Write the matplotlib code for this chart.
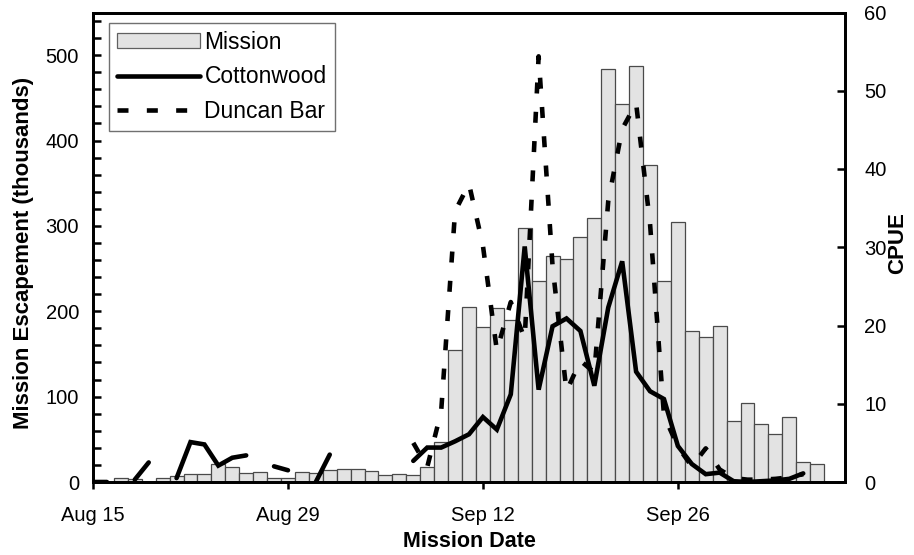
import numpy as np
import matplotlib
matplotlib.use("Agg")
import matplotlib.pyplot as plt
from matplotlib.lines import Line2D
from matplotlib.patches import Patch

plt.rcParams['font.family'] = ['Liberation Sans', 'DejaVu Sans']

# Days since Aug 15 (day 0 = Aug 15)
days = np.arange(53)
tick_days = [0, 14, 28, 42]
tick_labels = ["Aug 15", "Aug 29", "Sep 12", "Sep 26"]

# Mission escapement (thousands), one bar per day
mission = [0, 0, 5, 4, 0, 5, 6.5, 9, 9, 21,
           17.5, 10, 12, 5, 4.5, 11.7, 11, 14.5, 15.5, 15,
           13, 8.5, 9.5, 8.5, 17.5, 47, 155, 205, 181, 204,
           190, 298, 235, 265, 261, 287, 309, 484, 443, 487,
           371, 235, 304, 177, 170, 183, 72, 93, 68, 56,
           76, 24, 21.5]

nan = np.nan
# Cottonwood CPUE
cottonwood = [0, 0, nan, 0.3, 2.5, nan, 0.5, 5.1, 4.8, 2.1,
              3.1, 3.4, nan, 2.0, 1.5, nan, 0, 3.5, nan, nan,
              nan, nan, nan, 2.7, 4.4, 4.4, 5.2, 6.1, 8.3, 6.7,
              11.2, 30.1, 11.8, 19.9, 20.9, 19.3, 12.3, 22.3, 28.2, 14.1,
              11.6, 10.6, 4.6, 2.3, 1.0, 1.2, 0.1, 0, 0.1, 0.2,
              0.4, 1.1, nan]

# Duncan Bar CPUE
duncan = [nan] * 23 + [5.0, 1.9, 9.0, 34.6, 38.1, 30.2, 16.8,
                       23.0, 18.3, 54.4, 27.6, 11.6, 15.5, 14.0, 35.9, 45.1, 48.4,
                       33.0, 8.5, 4.5, 2.0, 4.3, 1.6, 0.5, 0.3, 0.3, 0.4,
                       0.6, 1.0, nan]

fig = plt.figure(figsize=(9.14, 5.55), dpi=100)
ax_w, ax_h = 845 - 93, 482 - 12.5
ax = fig.add_axes([93/914, 1-482/555, ax_w/914, ax_h/555])
ax2 = ax.twinx()

bar_fc = '#e3e3e3'
bar_ec = '#4a4a4a'
ax.bar(days, mission, width=1.0, color=bar_fc, edgecolor=bar_ec, linewidth=0.9, zorder=2)

lw = 3.3
dash = (2.4, 4.0)
ax2.plot(days, cottonwood, color='black', lw=lw, solid_capstyle='round',
         solid_joinstyle='miter')
ax2.plot(days, duncan, color='black', lw=lw, linestyle=(0, dash),
         dash_capstyle='butt')

ax.set_xlim(0, 54)
ax.set_ylim(0, 550)
ax2.set_ylim(0, 60)

ax.set_xticks(tick_days)
ax.set_xticklabels(tick_labels)
ax.set_yticks(np.arange(0, 501, 100))
ax.set_yticks(np.arange(0, 551, 20), minor=True)
ax2.set_yticks(np.arange(0, 61, 10))

for a in (ax, ax2):
    for s in a.spines.values():
        s.set_linewidth(2.0)

ax.tick_params(axis='x', which='major', direction='out', length=5, width=1.8,
               labelsize=14.5, pad=12)
ax.tick_params(axis='y', which='both', direction='in', length=6, width=1.8,
               labelsize=14.5, pad=10)
ax2.tick_params(axis='y', direction='in', length=6, width=1.8, labelsize=14.5, pad=14)

ax.set_xlabel("Mission Date", fontsize=15.5, fontweight='bold')
ax.xaxis.set_label_coords((469 - 93)/ax_w, (482 - 531)/ax_h)
ax.set_ylabel("Mission Escapement (thousands)", fontsize=16, fontweight='bold')
ax.yaxis.set_label_coords((34 - 93)/ax_w, (482 - 253)/ax_h)
ax2.set_ylabel("CPUE", fontsize=16, fontweight='bold')
ax2.yaxis.set_label_coords((887 - 93)/ax_w, (482 - 243)/ax_h)

handles = [Patch(facecolor=bar_fc, edgecolor='#606060', linewidth=0.9),
           Line2D([], [], color='black', lw=lw, solid_capstyle='round'),
           Line2D([], [], color='black', lw=lw, linestyle=(0, dash), dash_capstyle='butt')]
leg = ax2.legend(handles, ["Mission", "Cottonwood", "Duncan Bar"],
                 loc='upper left', bbox_to_anchor=((109.3-93)/ax_w, (482-22.7)/ax_h),
                 borderaxespad=0, fontsize=16.5, handlelength=3.6, handleheight=0.6,
                 handletextpad=0.2, labelspacing=0.5, borderpad=0.35,
                 fancybox=False, framealpha=1, edgecolor='#707070')
leg.get_frame().set_linewidth(1.0)

fig.savefig("out.png", dpi=100)
